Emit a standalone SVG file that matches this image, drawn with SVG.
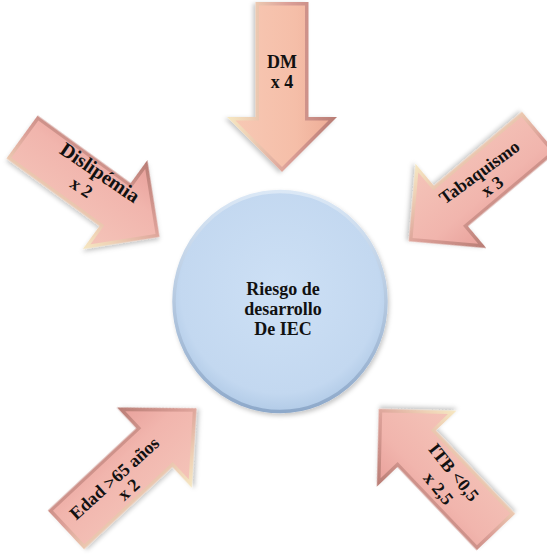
<svg xmlns="http://www.w3.org/2000/svg" xmlns:xlink="http://www.w3.org/1999/xlink" width="547" height="559" viewBox="0 0 547 559">
<style>
.t{font-family:"Liberation Serif","Times New Roman",serif;font-weight:bold;font-size:18px;fill:#111;text-anchor:middle}
.big{font-size:20px}
.bevel{fill:url(#gBevel)}
.pink{fill:url(#gPink)}
.peach{fill:url(#gPeach)}
.sh{filter:url(#shadow)}
</style>
<defs>
<linearGradient id="gBevel" x1="0" y1="0" x2="0" y2="1">
<stop offset="0" stop-color="#b87c74"/>
<stop offset="0.45" stop-color="#dca098"/>
<stop offset="0.8" stop-color="#efd2b6"/>
<stop offset="1" stop-color="#f6e8c2"/>
</linearGradient>
<linearGradient id="gPink" x1="0" y1="0" x2="0" y2="1">
<stop offset="0" stop-color="#e9a39d"/>
<stop offset="0.35" stop-color="#f1b5ad"/>
<stop offset="1" stop-color="#f4c3b8"/>
</linearGradient>
<linearGradient id="gPeach" x1="0" y1="0" x2="0" y2="1">
<stop offset="0" stop-color="#eeae98"/>
<stop offset="0.35" stop-color="#f5bea8"/>
<stop offset="1" stop-color="#f7c8b4"/>
</linearGradient>
<radialGradient id="gCircle" cx="0.5" cy="0.45" r="0.55">
<stop offset="0" stop-color="#cde0f5"/>
<stop offset="0.85" stop-color="#c3d8f0"/>
<stop offset="1" stop-color="#b2cbe7"/>
</radialGradient>
<linearGradient id="gRing" x1="0" y1="0" x2="0" y2="1">
<stop offset="0" stop-color="#dbe8f6"/>
<stop offset="1" stop-color="#8ea9ca"/>
</linearGradient>
<filter id="shadow" x="-20%" y="-20%" width="140%" height="140%">
<feDropShadow dx="1.5" dy="2.5" stdDeviation="2" flood-color="#000" flood-opacity="0.22"/>
</filter>
<path id="aOut" d="M0,-26.5 L115,-26.5 L115,-55 L170,0 L115,55 L115,26.5 L0,26.5 Z"/>
<path id="aIn" d="M3.5,-23 L118.5,-23 L118.5,-46.5 L165,0 L118.5,46.5 L118.5,23 L3.5,23 Z"/>
</defs>
<rect width="547" height="559" fill="#fff"/>

<g id="node-center">
<ellipse cx="280" cy="301.5" rx="106" ry="110" fill="url(#gCircle)" stroke="url(#gRing)" stroke-width="3.5" class="sh"/>
<text class="t" x="283" y="295">Riesgo de</text>
<text class="t" x="283" y="315">desarrollo</text>
<text class="t" x="283" y="335">De IEC</text>
</g>

<g id="node-dm">
<g transform="translate(282,2) rotate(90)">
<use xlink:href="#aOut" href="#aOut" class="bevel sh"/>
<use xlink:href="#aIn" href="#aIn" class="peach"/>
</g>
<text class="t" x="282" y="68">DM</text>
<text class="t" x="282" y="88">x 4</text>
</g>

<g id="node-dislipemia">
<g transform="translate(22,137) rotate(36)">
<use xlink:href="#aOut" href="#aOut" class="bevel sh"/>
<use xlink:href="#aIn" href="#aIn" class="pink"/>
</g>
<g transform="translate(99,174) rotate(34)">
<text class="t big" x="0" y="5">Dislipémia</text>
<text class="t" x="-7" y="27">x 2</text>
</g>
</g>

<g id="node-tabaquismo">
<g transform="translate(539,132) rotate(140)">
<use xlink:href="#aOut" href="#aOut" class="bevel sh"/>
<use xlink:href="#aIn" href="#aIn" class="pink"/>
</g>
<g transform="translate(480,173) rotate(-36)">
<text class="t" x="0" y="5">Tabaquismo</text>
<text class="t" x="2" y="24">x 3</text>
</g>
</g>

<g id="node-edad">
<g transform="translate(66,530) rotate(-43) scale(1.05,1)">
<use xlink:href="#aOut" href="#aOut" class="bevel sh"/>
<use xlink:href="#aIn" href="#aIn" class="pink"/>
</g>
<g transform="translate(115,479) rotate(-42)">
<text class="t" x="0" y="5">Edad &gt;65 años</text>
<text class="t" x="3" y="23">x 2</text>
</g>
</g>

<g id="node-itb">
<g transform="translate(496,532) rotate(-133.6)">
<use xlink:href="#aOut" href="#aOut" class="bevel sh"/>
<use xlink:href="#aIn" href="#aIn" class="pink"/>
</g>
<g transform="translate(453,473) rotate(51)">
<text class="t" x="0" y="5">ITB &lt;0,5</text>
<text class="t" x="3" y="27">x 2,5</text>
</g>
</g>

<g id="connectors"/>
</svg>
